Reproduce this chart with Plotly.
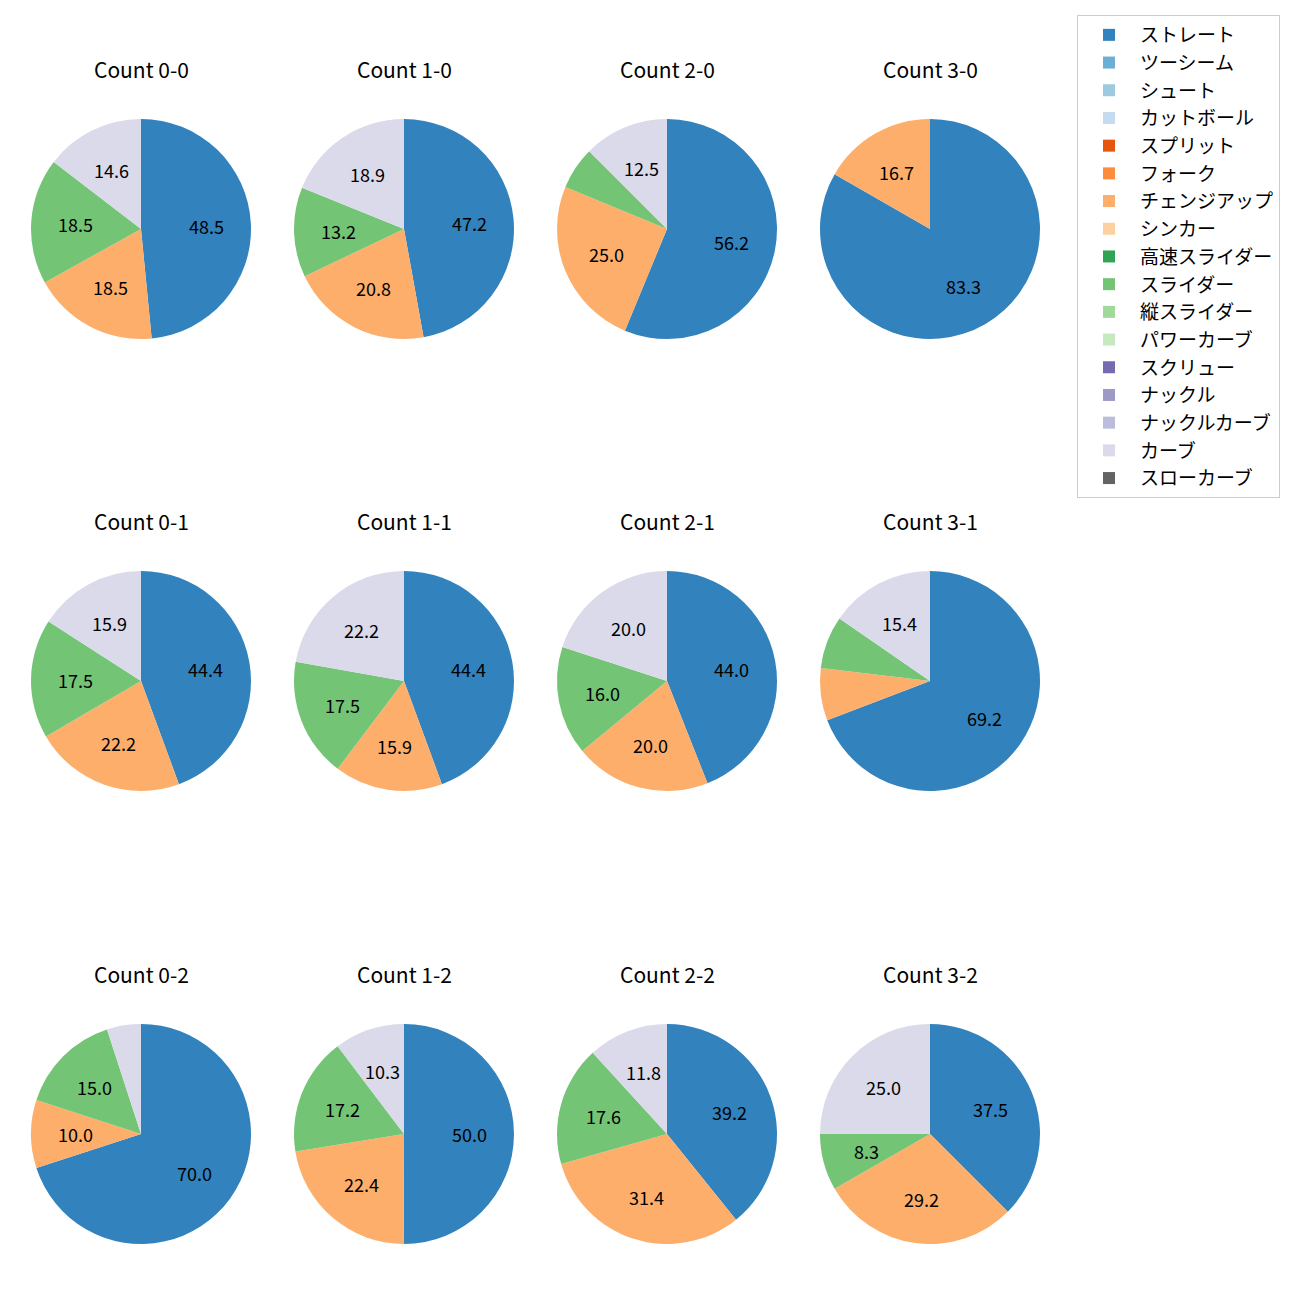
import math
import plotly.graph_objects as go

pitch_types = ["ストレート", "ツーシーム", "シュート", "カットボール", "スプリット", "フォーク",
               "チェンジアップ", "シンカー", "高速スライダー", "スライダー", "縦スライダー",
               "パワーカーブ", "スクリュー", "ナックル", "ナックルカーブ", "カーブ", "スローカーブ"]
colors = ["#3182bd", "#6baed6", "#9ecae1", "#c6dbef", "#e6550d", "#fd8d3c", "#fdae6b", "#fdd0a2",
          "#31a354", "#74c476", "#a1d99b", "#c7e9c0", "#756bb1", "#9e9ac8", "#bcbddc", "#dadaeb",
          "#636363"]

counts = ["0-0", "1-0", "2-0", "3-0",
          "0-1", "1-1", "2-1", "3-1",
          "0-2", "1-2", "2-2", "3-2"]

# Percentages per count: ストレート, チェンジアップ, スライダー, カーブ
straight = [48.5, 47.2, 56.25, 83.3, 44.4, 44.4, 44.0, 69.2, 70.0, 50.0, 39.2, 37.5]
changeup = [18.5, 20.8, 25.0, 16.7, 22.2, 15.9, 20.0, 7.7, 10.0, 22.4, 31.4, 29.2]
slider   = [18.5, 13.2, 6.25, 0.0, 17.5, 17.5, 16.0, 7.7, 15.0, 17.2, 17.6, 8.3]
curve    = [14.6, 18.9, 12.5, 0.0, 15.9, 22.2, 20.0, 15.4, 5.0, 10.3, 11.8, 25.0]

W, H = 1300, 1300
OFF = 8  # page body margin
col_cx = [141 - OFF, 404 - OFF, 667 - OFF, 930 - OFF]
row_cy = [229 - OFF, 681 - OFF, 1134 - OFF]
title_y = [69 - OFF, 521 - OFF, 974 - OFF]
R = 110
FONT = "Noto Sans CJK JP"

fig = go.Figure()
for i, cnt in enumerate(counts):
    r, c = divmod(i, 4)
    vals = [0.0] * len(pitch_types)
    vals[pitch_types.index("ストレート")] = straight[i]
    vals[pitch_types.index("チェンジアップ")] = changeup[i]
    vals[pitch_types.index("スライダー")] = slider[i]
    vals[pitch_types.index("カーブ")] = curve[i]
    cx, cy = col_cx[c], row_cy[r]
    fig.add_trace(go.Pie(
        labels=pitch_types, values=vals, textinfo="none",
        marker=dict(colors=colors, line=dict(width=0)),
        sort=False, direction="clockwise", rotation=0,
        domain=dict(x=[(cx - R) / W, (cx + R) / W], y=[1 - (cy + R) / H, 1 - (cy - R) / H]),
        showlegend=(i == 0), hoverinfo="label+percent",
    ))
    # percentage labels at 0.6 radius along each slice's mid-angle
    total = sum(vals)
    cum = 0.0
    for v in vals:
        if v <= 0:
            continue
        mid = (cum + v / 2) / total * 2 * math.pi
        cum += v
        if v < 8:
            continue
        px = cx + 0.6 * R * math.sin(mid)
        py = cy - 0.6 * R * math.cos(mid)
        fig.add_annotation(text=f"{v:.1f}", x=px / W, y=1 - py / H,
                           xref="paper", yref="paper", showarrow=False,
                           font=dict(size=18, color="black", family=FONT),
                           xanchor="center", yanchor="middle")
    fig.add_annotation(text=f"Count {cnt}", x=cx / W, y=1 - title_y[r] / H,
                       xref="paper", yref="paper", showarrow=False,
                       font=dict(size=21, color="black", family=FONT),
                       xanchor="center", yanchor="middle")

fig.update_layout(
    width=W, height=H, margin=dict(l=0, r=0, t=0, b=0),
    paper_bgcolor="white", plot_bgcolor="white",
    font=dict(family=FONT, size=18, color="black"),
    legend=dict(x=(1077 - OFF) / W, y=1 - (15 - OFF) / H, xanchor="left", yanchor="top",
                bgcolor="white", bordercolor="#cccccc", borderwidth=1,
                font=dict(size=19, family=FONT), traceorder="normal", itemwidth=52),
)
fig.write_html("out.html")
